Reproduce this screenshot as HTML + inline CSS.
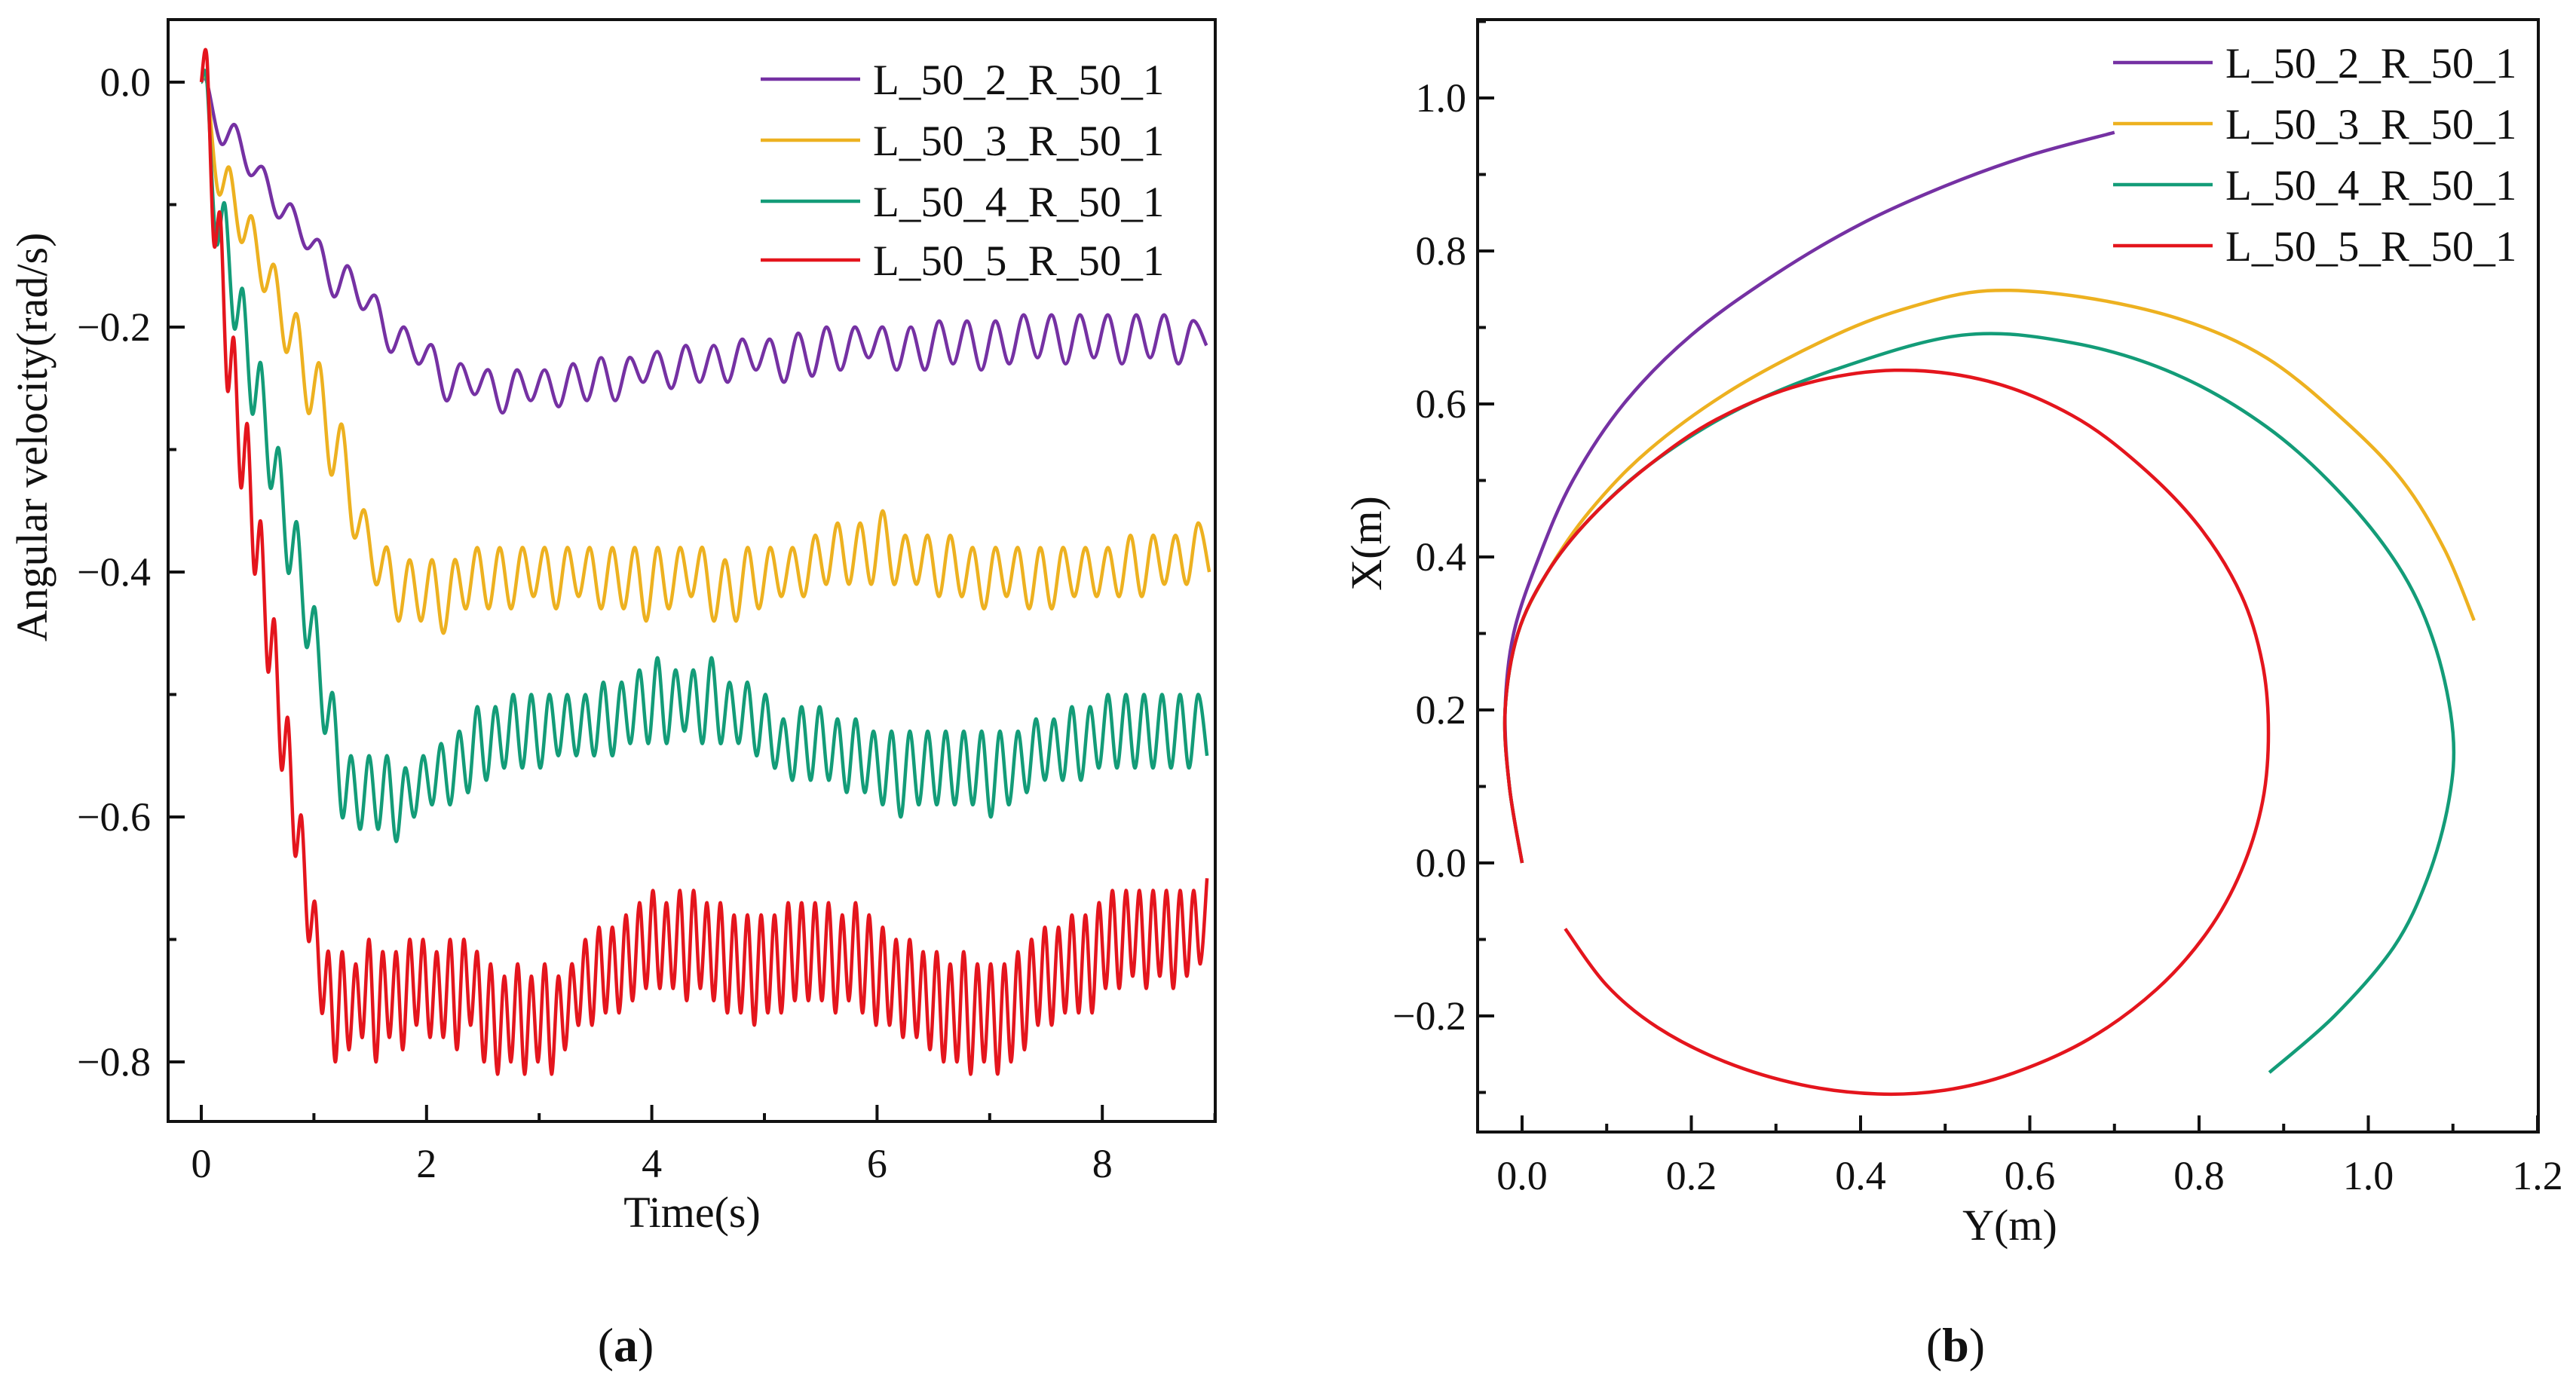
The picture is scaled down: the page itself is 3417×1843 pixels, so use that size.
<!DOCTYPE html>
<html><head><meta charset="utf-8"><style>
html,body{margin:0;padding:0;background:#fff;}
svg{display:block;font-family:"Liberation Serif",serif;}
</style></head><body>
<svg id="fig" width="3417" height="1843" viewBox="0 0 3417 1843" xmlns="http://www.w3.org/2000/svg"></svg>
<script>
// ---------- Panel (a) data ----------
const seriesNames = ["L_50_2_R_50_1","L_50_3_R_50_1","L_50_4_R_50_1","L_50_5_R_50_1"];
const seriesColors = ["#7531a3","#edb120","#139c78","#e4151d"];
const xTicksA = [0,2,4,6,8];
const yTicksA = [0.0,-0.2,-0.4,-0.6,-0.8];
const yTickLabelsA = ["0.0","\u22120.2","\u22120.4","\u22120.6","\u22120.8"];
const purpleT0 = 0.05, purpleDt = 0.125;
const purpleVals = [0,-0.05,-0.035,-0.075,-0.07,-0.11,-0.1,-0.135,-0.13,-0.175,-0.15,-0.185,-0.175,-0.22,-0.2,-0.23,-0.215,-0.26,-0.23,-0.255,-0.235,-0.27,-0.235,-0.26,-0.235,-0.265,-0.23,-0.26,-0.225,-0.26,-0.225,-0.245,-0.22,-0.25,-0.215,-0.245,-0.215,-0.245,-0.21,-0.235,-0.21,-0.245,-0.205,-0.24,-0.2,-0.235,-0.2,-0.225,-0.2,-0.235,-0.2,-0.235,-0.195,-0.23,-0.195,-0.235,-0.195,-0.23,-0.19,-0.225,-0.19,-0.23,-0.19,-0.225,-0.19,-0.23,-0.19,-0.225,-0.19,-0.23,-0.195,-0.215];
const yellowT0 = 0.05, yellowDt = 0.1;
const yellowVals = [0,-0.09,-0.07,-0.13,-0.11,-0.17,-0.15,-0.22,-0.19,-0.27,-0.23,-0.32,-0.28,-0.37,-0.35,-0.41,-0.38,-0.44,-0.39,-0.44,-0.39,-0.45,-0.39,-0.43,-0.38,-0.43,-0.38,-0.43,-0.38,-0.42,-0.38,-0.43,-0.38,-0.42,-0.38,-0.43,-0.38,-0.43,-0.38,-0.44,-0.38,-0.43,-0.38,-0.42,-0.38,-0.44,-0.39,-0.44,-0.38,-0.43,-0.38,-0.42,-0.38,-0.42,-0.37,-0.41,-0.36,-0.41,-0.36,-0.41,-0.35,-0.41,-0.37,-0.41,-0.37,-0.42,-0.37,-0.42,-0.38,-0.43,-0.38,-0.42,-0.38,-0.43,-0.38,-0.43,-0.38,-0.42,-0.38,-0.42,-0.38,-0.42,-0.37,-0.42,-0.37,-0.41,-0.37,-0.41,-0.36,-0.4];
const greenT0 = 0.05, greenDt = 0.08;
const greenVals = [0,-0.13,-0.1,-0.2,-0.17,-0.27,-0.23,-0.33,-0.3,-0.4,-0.36,-0.46,-0.43,-0.53,-0.5,-0.6,-0.55,-0.61,-0.55,-0.61,-0.55,-0.62,-0.56,-0.6,-0.55,-0.59,-0.54,-0.59,-0.53,-0.58,-0.51,-0.57,-0.51,-0.56,-0.5,-0.56,-0.5,-0.56,-0.5,-0.55,-0.5,-0.55,-0.5,-0.55,-0.49,-0.55,-0.49,-0.54,-0.48,-0.54,-0.47,-0.54,-0.48,-0.53,-0.48,-0.54,-0.47,-0.54,-0.49,-0.54,-0.49,-0.55,-0.5,-0.56,-0.52,-0.57,-0.51,-0.57,-0.51,-0.57,-0.52,-0.58,-0.52,-0.58,-0.53,-0.59,-0.53,-0.6,-0.53,-0.59,-0.53,-0.59,-0.53,-0.59,-0.53,-0.59,-0.53,-0.6,-0.53,-0.59,-0.53,-0.58,-0.52,-0.57,-0.52,-0.57,-0.51,-0.57,-0.51,-0.56,-0.5,-0.56,-0.5,-0.56,-0.5,-0.56,-0.5,-0.56,-0.5,-0.56,-0.5,-0.55];
const redT0 = 0.05, redDt = 0.06;
const redVals = [0.02,-0.13,-0.11,-0.25,-0.21,-0.33,-0.28,-0.4,-0.36,-0.48,-0.44,-0.56,-0.52,-0.63,-0.6,-0.7,-0.67,-0.76,-0.71,-0.8,
-0.71,-0.79,-0.72,-0.78,-0.7,-0.8,-0.71,-0.78,-0.71,-0.79,-0.7,-0.77,-0.7,-0.78,-0.71,-0.78,-0.7,-0.79,-0.7,-0.77,-0.71,
-0.8,-0.72,-0.81,-0.73,-0.8,-0.72,-0.81,-0.73,-0.8,-0.72,-0.81,-0.73,-0.79,-0.72,
-0.77,-0.7,-0.77,-0.69,-0.76,-0.69,-0.76,-0.68,-0.75,-0.67,
-0.74,-0.66,-0.74,-0.67,-0.74,-0.66,-0.75,-0.66,-0.74,-0.67,-0.75,-0.67,
-0.76,-0.68,-0.76,-0.68,-0.77,-0.68,-0.76,-0.68,-0.76,-0.67,-0.75,-0.67,
-0.75,-0.67,-0.75,-0.67,-0.76,-0.68,-0.75,-0.67,-0.76,-0.68,-0.77,
-0.69,-0.77,-0.7,-0.78,-0.7,-0.78,-0.71,-0.79,
-0.71,-0.8,-0.72,-0.8,-0.71,-0.81,-0.72,-0.8,-0.72,-0.81,-0.72,-0.8,-0.71,-0.79,
-0.7,-0.77,-0.69,-0.77,-0.69,-0.76,-0.68,-0.76,-0.68,-0.76,-0.67,
-0.74,-0.66,-0.74,-0.66,-0.73,-0.66,-0.74,-0.66,-0.73,-0.66,-0.74,-0.66,-0.73,-0.66,-0.72,-0.65];

// ---------- Panel (b) data (Y, X pairs in metres) ----------
const xTicksB = [0.0,0.2,0.4,0.6,0.8,1.0,1.2];
const xTickLabelsB = ["0.0","0.2","0.4","0.6","0.8","1.0","1.2"];
const yTicksB = [1.0,0.8,0.6,0.4,0.2,0.0,-0.2];
const yTickLabelsB = ["1.0","0.8","0.6","0.4","0.2","0.0","\u22120.2"];
const purpleY = [0,-0.015,-0.02,-0.01,0.02,0.06,0.12,0.2,0.3,0.4,0.5,0.6,0.7];
const purpleX = [0,0.1,0.2,0.3,0.4,0.5,0.6,0.69,0.77,0.835,0.885,0.925,0.955];
const yellowY = [0,-0.015,-0.02,-0.005,0.03,0.08,0.15,0.25,0.37,0.46,0.55,0.66,0.78,0.88,0.97,1.04,1.09,1.125];
const yellowX = [0,0.1,0.2,0.3,0.38,0.46,0.54,0.62,0.69,0.727,0.748,0.74,0.71,0.66,0.58,0.5,0.41,0.317];
const greenY = [0,-0.015,-0.02,-0.005,0.03,0.08,0.15,0.25,0.37,0.52,0.65,0.77,0.88,0.97,1.04,1.08,1.1,1.095,1.07,1.03,0.96,0.883];
const greenX = [0,0.1,0.2,0.3,0.38,0.45,0.52,0.59,0.645,0.69,0.68,0.64,0.57,0.48,0.38,0.28,0.17,0.08,-0.02,-0.11,-0.2,-0.274];
const redY = [0,-0.015,-0.02,-0.005,0.03,0.08,0.15,0.23,0.33,0.44,0.55,0.65,0.73,0.8,0.85,0.875,0.882,0.875,0.85,0.81,0.75,0.67,0.58,0.5,0.42,0.33,0.24,0.16,0.1,0.051];
const redX = [0,0.1,0.2,0.3,0.38,0.45,0.52,0.58,0.625,0.644,0.63,0.585,0.52,0.44,0.35,0.26,0.17,0.08,-0.01,-0.09,-0.165,-0.23,-0.275,-0.297,-0.302,-0.29,-0.26,-0.215,-0.16,-0.086];

const NS = "http://www.w3.org/2000/svg";
const svg = document.getElementById('fig');
function mk(tag, attrs, parent){
  const e = document.createElementNS(NS, tag);
  for (const k in attrs) e.setAttribute(k, attrs[k]);
  (parent||svg).appendChild(e);
  return e;
}
function txt(s, x, y, size, anchor, parent){
  const t = mk('text', {x:x, y:y, 'font-size':size, 'text-anchor':anchor||'middle', fill:'#111'}, parent);
  t.textContent = s;
  return t;
}
function smoothPath(pts){
  let d = 'M'+pts[0][0].toFixed(1)+','+pts[0][1].toFixed(1);
  for (let i=0;i<pts.length-1;i++){
    const p0 = pts[i-1]||pts[i], p1=pts[i], p2=pts[i+1], p3=pts[i+2]||pts[i+1];
    const c1x=p1[0]+(p2[0]-p0[0])/6, c1y=p1[1]+(p2[1]-p0[1])/6;
    const c2x=p2[0]-(p3[0]-p1[0])/6, c2y=p2[1]-(p3[1]-p1[1])/6;
    d+=' C'+c1x.toFixed(1)+','+c1y.toFixed(1)+' '+c2x.toFixed(1)+','+c2y.toFixed(1)+' '+p2[0].toFixed(1)+','+p2[1].toFixed(1);
  }
  return d;
}

// ===== Panel A =====
const A = {left:223, right:1612, top:26, bottom:1488};
const ax = t => 267 + t*149.4;
const ay = v => 109 + (-v)/0.2*325;
const gA = mk('g', {});



const clipA = mk('clipPath', {id:'clipA'});
mk('rect', {x:A.left, y:A.top, width:A.right-A.left, height:A.bottom-A.top}, clipA);
const linesA = mk('g', {'clip-path':'url(#clipA)'}, gA);
const aSeries = [[purpleT0,purpleDt,purpleVals],[yellowT0,yellowDt,yellowVals],[greenT0,greenDt,greenVals],[redT0,redDt,redVals]];
aSeries.forEach((s,k)=>{
  const pts = [[ax(0), ay(0)]].concat(s[2].map((v,i)=>[ax(s[0]+i*s[1]), ay(v)]));
  const p = mk('path', {d:smoothPath(pts), fill:'none', stroke:seriesColors[k], 'stroke-width':4.5, 'stroke-linejoin':'round'}, linesA);
  
  
});
const frameA = mk('rect', {x:A.left, y:A.top, width:A.right-A.left, height:A.bottom-A.top, fill:'none', stroke:'#111', 'stroke-width':4}, gA);


for (let t=0;t<=9;t++){
  const major = t%2===0;
  mk('line', {x1:ax(t), x2:ax(t), y1:A.bottom, y2:A.bottom-(major?22:11), stroke:'#111','stroke-width':4}, gA);
}
xTicksA.forEach(t=>{
  const e = txt(String(t), ax(t), 1562, 54, 'middle', gA);
  
  
});
for (let i=0;i<=8;i++){
  const v = -i*0.1, major = i%2===0;
  mk('line', {x1:A.left, x2:A.left+(major?22:11), y1:ay(v), y2:ay(v), stroke:'#111','stroke-width':4}, gA);
}
yTicksA.forEach((v,i)=>{
  const e = txt(yTickLabelsA[i], 200, ay(v)+18, 54, 'end', gA);
  
  
});
const xtA = txt('Time(s)', 918, 1628, 58, 'middle', gA);


const ytA = txt('Angular velocity(rad/s)', 0, 0, 58, 'middle', gA);
ytA.setAttribute('transform', 'translate(62,580) rotate(-90)');


const legA = mk('g', {}, gA);


[105,186,267,345].forEach((y,k)=>{
  const g = mk('g', {}, legA);
  
  
  mk('line', {x1:1009, x2:1141, y1:y, y2:y, stroke:seriesColors[k], 'stroke-width':4.5}, g);
  txt(seriesNames[k], 1158, y+20, 57, 'start', g);
});
const capA = mk('text', {x:830, y:1806, 'font-size':64, 'text-anchor':'middle', fill:'#111'});
capA.innerHTML = '(<tspan font-weight="bold">a</tspan>)';



// ===== Panel B =====
const B = {left:1960, right:3367, top:26, bottom:1502};
const bx = v => 2019 + v/0.2*224.5;
const by = v => 1145 - v/0.2*203;
const gB = mk('g', {});


const bSeries = [[purpleY,purpleX],[yellowY,yellowX],[greenY,greenX],[redY,redX]];
bSeries.forEach((s,k)=>{
  const pts = s[0].map((y,i)=>[bx(y), by(s[1][i])]);
  const p = mk('path', {d:smoothPath(pts), fill:'none', stroke:seriesColors[k], 'stroke-width':4.5, 'stroke-linejoin':'round'}, gB);
  
  
});
const frameB = mk('rect', {x:B.left, y:B.top, width:B.right-B.left, height:B.bottom-B.top, fill:'none', stroke:'#111', 'stroke-width':4}, gB);


for (let i=0;i<=12;i++){
  const v=i*0.1, major=i%2===0;
  mk('line', {x1:bx(v), x2:bx(v), y1:B.bottom, y2:B.bottom-(major?22:11), stroke:'#111','stroke-width':4}, gB);
}
xTicksB.forEach((v,i)=>{
  const e = txt(xTickLabelsB[i], bx(v), 1578, 54, 'middle', gB);
  
  
});
for (let i=-3;i<=11;i++){
  const v=i*0.1, major=i%2===0;
  mk('line', {x1:B.left, x2:B.left+(major?22:11), y1:by(v), y2:by(v), stroke:'#111','stroke-width':4}, gB);
}
yTicksB.forEach((v,i)=>{
  const e = txt(yTickLabelsB[i], 1945, by(v)+18, 54, 'end', gB);
  
  
});
const xtB = txt('Y(m)', 2666, 1645, 58, 'middle', gB);


const ytB = txt('X(m)', 0, 0, 58, 'middle', gB);
ytB.setAttribute('transform', 'translate(1832,721) rotate(-90)');


const legB = mk('g', {}, gB);


[83,164,245,326].forEach((y,k)=>{
  const g = mk('g', {}, legB);
  
  
  mk('line', {x1:2803, x2:2935, y1:y, y2:y, stroke:seriesColors[k], 'stroke-width':4.5}, g);
  txt(seriesNames[k], 2952, y+20, 57, 'start', g);
});
const capB = mk('text', {x:2594, y:1806, 'font-size':64, 'text-anchor':'middle', fill:'#111'});
capB.innerHTML = '(<tspan font-weight="bold">b</tspan>)';


</script>
</body></html>
